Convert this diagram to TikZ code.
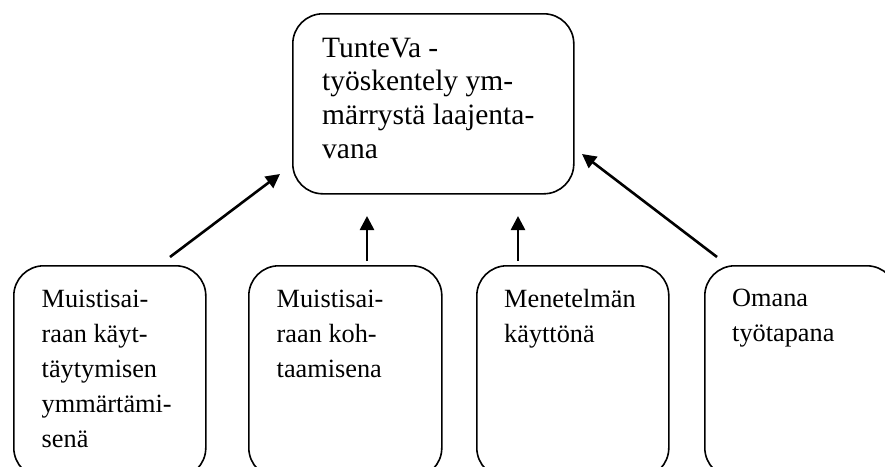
\documentclass[tikz,border=0pt]{standalone}
\usepackage{fontspec}
\setmainfont{Liberation Serif}
\usetikzlibrary{arrows.meta}
\tikzset{
  roundbox/.style={draw=black, line width=1.6pt, rounded corners=30pt,
    rectangle, inner sep=0pt, anchor=north west},
  toptext/.style={anchor=north west, inner sep=0pt, align=left,
    font=\fontsize{29.5}{33.8}\selectfont},
  subtext/.style={anchor=north west, inner sep=0pt, align=left,
    font=\fontsize{26.3}{35.1}\selectfont},
  arr/.style={line width=2.6pt, -{Triangle[length=14pt,width=14pt]}}
}
\begin{document}
\begin{tikzpicture}[x=1pt,y=-1pt]
  \useasboundingbox (0,0) rectangle (885,466);
  \clip (0,0) rectangle (885,466);

  % central box
  \node[roundbox, minimum width=281pt, minimum height=180pt] (top) at (292,13) {};
  \node[toptext] (toplabel) at (322,37.5)
    {TunteVa -\\työskentely ym-\\märrystä laajenta-\\vana};

  % four lower boxes, running past the lower edge
  \node[roundbox, minimum width=192pt, minimum height=212pt] (b1) at (13,265) {};
  \node[roundbox, minimum width=193pt, minimum height=212pt] (b2) at (248,265) {};
  \node[roundbox, minimum width=192pt, minimum height=212pt] (b3) at (476,265) {};
  \node[roundbox, minimum width=192pt, minimum height=212pt] (b4) at (704,265) {};

  \node[subtext] (l1) at (41.5,289.7)
    {Muistisai-\\raan käyt-\\täytymisen\\ymmärtämi-\\senä};
  \node[subtext] (l2) at (276.5,289.7)
    {Muistisai-\\raan koh-\\taamisena};
  \node[subtext] (l3) at (504,288.7)
    {Menetelmän\\käyttönä};
  \node[subtext] (l4) at (732,288.7)
    {Omana\\työtapana};

  % arrow ends, set a little apart from the boxes
  \coordinate (s1) at (170,257);
  \coordinate (e1) at (280,174);
  \coordinate (s2) at (367,261);
  \coordinate (e2) at (367,216);
  \coordinate (s3) at (518,261);
  \coordinate (e3) at (518,216);
  \coordinate (s4) at (717,257);
  \coordinate (e4) at (582,154);

  \draw[arr] (s1) -- (e1);
  \draw[arr] (s2) -- (e2);
  \draw[arr] (s3) -- (e3);
  \draw[arr] (s4) -- (e4);
\end{tikzpicture}
\end{document}
